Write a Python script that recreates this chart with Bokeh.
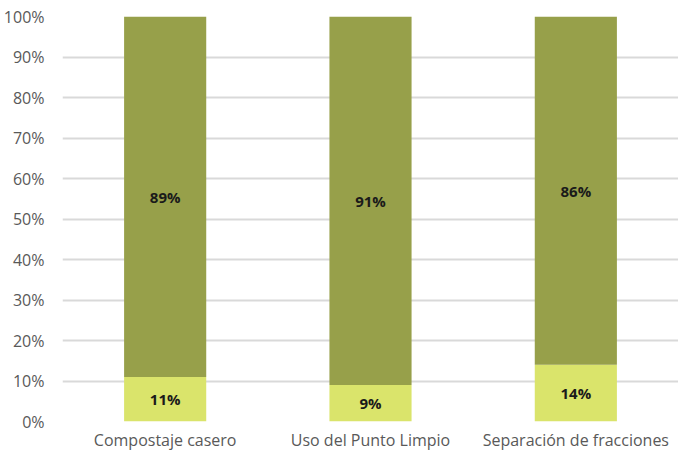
from bokeh.plotting import figure
from bokeh.models import ColumnDataSource, FixedTicker, NumeralTickFormatter, Range1d
from bokeh.core.properties import value
from bokeh.embed import file_html
from bokeh.resources import INLINE

categories = ["Compostaje casero", "Uso del Punto Limpio", "Separación de fracciones"]
si = [0.11, 0.09, 0.14]
no = [0.89, 0.91, 0.86]
si_labels = ["11%", "9%", "14%"]
no_labels = ["89%", "91%", "86%"]

FONT = "Open Sans"

src = ColumnDataSource(dict(
    cat=categories, si=si, no=no,
    si_mid=[s / 2 for s in si],
    no_mid=[s + n / 2 for s, n in zip(si, no)],
    si_lab=si_labels, no_lab=no_labels,
))

p = figure(x_range=categories, y_range=Range1d(0, 1), width=678, height=453,
           output_backend="svg", toolbar_location=None,
           min_border_left=61, min_border_right=0, min_border_top=16, min_border_bottom=20)

p.vbar_stack(["si", "no"], x="cat", width=0.4, source=src,
             color=["#dae46b", "#97a04a"], line_color=None)

p.text(x="cat", y="si_mid", text="si_lab", source=src, text_align="center",
       text_baseline="middle", text_font=value(FONT), text_font_style="bold",
       text_font_size="15px", text_color="#1a1a1a")
p.text(x="cat", y="no_mid", text="no_lab", source=src, text_align="center",
       text_baseline="middle", text_font=value(FONT), text_font_style="bold",
       text_font_size="15px", text_color="#1a1a1a")

p.yaxis.ticker = FixedTicker(ticks=[i / 10 for i in range(11)])
p.yaxis.formatter = NumeralTickFormatter(format="0%")
for ax in (p.xaxis, p.yaxis):
    ax.axis_line_color = None
    ax.major_tick_line_color = None
    ax.minor_tick_line_color = None
    ax.major_label_text_font = FONT
    ax.major_label_text_font_size = "16px"
    ax.major_label_text_color = "#595959"
p.xaxis.major_label_standoff = 1
p.yaxis.major_label_standoff = 12

p.xgrid.grid_line_color = None
p.ygrid.grid_line_color = "#d9d9d9"
p.ygrid.grid_line_width = 2
p.outline_line_color = None
p.x_range.range_padding = 0

open("out.html", "w").write(file_html(p, INLINE))
